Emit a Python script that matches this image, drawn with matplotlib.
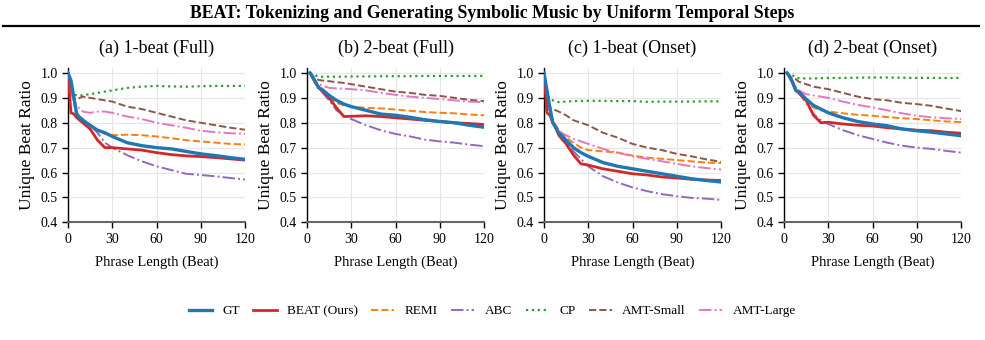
import matplotlib
matplotlib.use('Agg')
import matplotlib.pyplot as plt
from matplotlib.lines import Line2D

plt.rcParams['font.family'] = ['Liberation Serif', 'DejaVu Serif']

# phrase lengths (beats)
x_1beat = [0, 2, 4, 6, 8, 10, 15, 20, 25, 30, 40, 50, 60, 70, 80, 90, 100, 110, 120]
x_2beat = [2, 4, 6, 8, 10, 15, 20, 25, 30, 40, 50, 60, 70, 80, 90, 100, 110, 120]

panel_titles = ['(a) 1-beat (Full)', '(b) 2-beat (Full)', '(c) 1-beat (Onset)', '(d) 2-beat (Onset)']
series_names = ['GT', 'BEAT (Ours)', 'REMI', 'ABC', 'CP', 'AMT-Small', 'AMT-Large']
yticks = [0.4, 0.5, 0.6, 0.7, 0.8, 0.9, 1.0]
xticks = [0, 30, 60, 90, 120]

# (a) 1-beat Full
a_gt = [1.0, 0.97, 0.90, 0.83, 0.82, 0.81, 0.79, 0.77, 0.76, 0.745, 0.72, 0.708, 0.70, 0.695, 0.685, 0.675, 0.668, 0.66, 0.653]
a_beat = [1.0, 0.84, 0.835, 0.82, 0.81, 0.80, 0.775, 0.73, 0.70, 0.70, 0.695, 0.69, 0.68, 0.672, 0.667, 0.664, 0.66, 0.655, 0.65]
a_remi = [1.0, 0.95, 0.88, 0.84, 0.82, 0.81, 0.79, 0.77, 0.755, 0.75, 0.752, 0.75, 0.745, 0.738, 0.73, 0.725, 0.72, 0.715, 0.713]
a_abc = [1.0, 0.95, 0.89, 0.84, 0.825, 0.815, 0.79, 0.76, 0.72, 0.70, 0.67, 0.645, 0.625, 0.61, 0.595, 0.59, 0.585, 0.578, 0.572]
a_cp = [1.0, 0.93, 0.913, 0.91, 0.91, 0.91, 0.915, 0.92, 0.925, 0.93, 0.94, 0.945, 0.948, 0.946, 0.945, 0.947, 0.948, 0.948, 0.948]
a_amts = [1.0, 0.92, 0.90, 0.895, 0.90, 0.905, 0.90, 0.895, 0.89, 0.885, 0.865, 0.855, 0.84, 0.825, 0.81, 0.80, 0.79, 0.78, 0.772]
a_amtl = [1.0, 0.92, 0.89, 0.87, 0.855, 0.845, 0.84, 0.845, 0.845, 0.84, 0.825, 0.815, 0.80, 0.79, 0.78, 0.768, 0.762, 0.758, 0.755]

# (b) 2-beat Full
b_gt = [1.0, 0.985, 0.96, 0.94, 0.935, 0.91, 0.89, 0.875, 0.865, 0.85, 0.835, 0.83, 0.822, 0.812, 0.805, 0.80, 0.79, 0.782]
b_beat = [1.0, 0.98, 0.96, 0.94, 0.93, 0.90, 0.86, 0.825, 0.826, 0.828, 0.825, 0.82, 0.815, 0.81, 0.805, 0.80, 0.797, 0.793]
b_remi = [1.0, 0.98, 0.96, 0.945, 0.93, 0.90, 0.88, 0.87, 0.865, 0.86, 0.858, 0.853, 0.848, 0.843, 0.84, 0.838, 0.833, 0.83]
b_abc = [1.0, 0.975, 0.955, 0.94, 0.925, 0.89, 0.85, 0.83, 0.815, 0.79, 0.77, 0.755, 0.745, 0.732, 0.725, 0.72, 0.712, 0.706]
b_cp = [1.0, 0.995, 0.99, 0.986, 0.985, 0.985, 0.985, 0.985, 0.986, 0.986, 0.987, 0.987, 0.987, 0.988, 0.988, 0.988, 0.988, 0.988]
b_amts = [1.0, 0.98, 0.975, 0.972, 0.97, 0.967, 0.963, 0.96, 0.955, 0.945, 0.935, 0.925, 0.92, 0.912, 0.908, 0.90, 0.892, 0.887]
b_amtl = [1.0, 0.98, 0.965, 0.955, 0.95, 0.94, 0.938, 0.937, 0.935, 0.93, 0.92, 0.912, 0.905, 0.90, 0.895, 0.89, 0.885, 0.882]

# (c) 1-beat Onset
c_gt = [1.0, 0.93, 0.86, 0.80, 0.78, 0.76, 0.73, 0.70, 0.68, 0.665, 0.64, 0.625, 0.615, 0.605, 0.595, 0.585, 0.575, 0.568, 0.562]
c_beat = [1.0, 0.84, 0.83, 0.80, 0.78, 0.75, 0.715, 0.67, 0.635, 0.63, 0.615, 0.605, 0.595, 0.59, 0.582, 0.578, 0.573, 0.57, 0.568]
c_remi = [1.0, 0.92, 0.85, 0.81, 0.79, 0.77, 0.74, 0.72, 0.70, 0.69, 0.685, 0.68, 0.668, 0.66, 0.655, 0.65, 0.645, 0.64, 0.638]
c_abc = [1.0, 0.91, 0.84, 0.80, 0.78, 0.76, 0.72, 0.685, 0.655, 0.625, 0.585, 0.56, 0.54, 0.525, 0.513, 0.505, 0.498, 0.495, 0.49]
c_cp = [1.0, 0.91, 0.895, 0.89, 0.885, 0.883, 0.885, 0.887, 0.888, 0.888, 0.888, 0.887, 0.887, 0.884, 0.885, 0.885, 0.885, 0.886, 0.886]
c_amts = [1.0, 0.87, 0.86, 0.855, 0.85, 0.845, 0.83, 0.81, 0.80, 0.79, 0.76, 0.74, 0.715, 0.70, 0.69, 0.675, 0.665, 0.653, 0.643]
c_amtl = [1.0, 0.88, 0.84, 0.80, 0.78, 0.765, 0.75, 0.735, 0.725, 0.715, 0.695, 0.68, 0.665, 0.655, 0.645, 0.635, 0.625, 0.618, 0.612]

# (d) 2-beat Onset
d_gt = [1.0, 0.985, 0.96, 0.93, 0.925, 0.895, 0.87, 0.855, 0.84, 0.82, 0.805, 0.795, 0.788, 0.775, 0.768, 0.762, 0.755, 0.748]
d_beat = [1.0, 0.985, 0.96, 0.93, 0.92, 0.89, 0.83, 0.80, 0.802, 0.795, 0.79, 0.787, 0.78, 0.775, 0.77, 0.768, 0.762, 0.758]
d_remi = [1.0, 0.98, 0.955, 0.935, 0.92, 0.89, 0.86, 0.85, 0.845, 0.838, 0.832, 0.828, 0.823, 0.818, 0.815, 0.81, 0.805, 0.803]
d_abc = [1.0, 0.98, 0.955, 0.935, 0.92, 0.88, 0.835, 0.81, 0.795, 0.77, 0.75, 0.735, 0.72, 0.708, 0.70, 0.695, 0.687, 0.68]
d_cp = [1.0, 0.995, 0.99, 0.98, 0.979, 0.978, 0.978, 0.979, 0.98, 0.98, 0.981, 0.982, 0.982, 0.981, 0.98, 0.98, 0.98, 0.98]
d_amts = [1.0, 0.985, 0.978, 0.975, 0.965, 0.955, 0.945, 0.94, 0.935, 0.92, 0.905, 0.895, 0.89, 0.88, 0.875, 0.868, 0.857, 0.847]
d_amtl = [1.0, 0.975, 0.96, 0.945, 0.93, 0.915, 0.91, 0.905, 0.90, 0.885, 0.872, 0.862, 0.85, 0.838, 0.828, 0.822, 0.818, 0.815]

panels = [
    (x_1beat, [a_gt, a_beat, a_remi, a_abc, a_cp, a_amts, a_amtl]),
    (x_2beat, [b_gt, b_beat, b_remi, b_abc, b_cp, b_amts, b_amtl]),
    (x_1beat, [c_gt, c_beat, c_remi, c_abc, c_cp, c_amts, c_amtl]),
    (x_2beat, [d_gt, d_beat, d_remi, d_abc, d_cp, d_amts, d_amtl]),
]

# style per series: color, linestyle, linewidth, zorder
styles = [
    ('#1f77b4', '-', 2.4, 5),
    ('#d62728', '-', 2.0, 4),
    ('#ff7f0e', '--', 1.4, 3),
    ('#9467bd', '-.', 1.4, 3),
    ('#2ca02c', ':', 1.6, 3),
    ('#8c564b', '--', 1.4, 3),
    ('#e377c2', '-.', 1.4, 3),
]

fig = plt.figure(figsize=(9.85, 3.4), dpi=100)

fig.text(0.5, 1 - 13 / 340, 'BEAT: Tokenizing and Generating Symbolic Music by Uniform Temporal Steps',
         ha='center', va='center', fontsize=12.8, fontweight='bold')
fig.add_artist(Line2D([3 / 985, 979 / 985], [1 - 26 / 340, 1 - 26 / 340], color='black', lw=1.6,
                      transform=fig.transFigure))

lefts = [68, 307, 544, 784]
ax_w = 177 / 985
ax_bottom = 1 - 222.3 / 340
ax_h = (222.3 - 68) / 340

handles = []
for i, (xs, ys_list) in enumerate(panels):
    ax = fig.add_axes([lefts[i] / 985, ax_bottom, ax_w, ax_h])
    order = [2, 3, 4, 5, 6, 1, 0]
    hmap = {}
    for k in order:
        c, ls, lw, z = styles[k]
        ln, = ax.plot(xs, ys_list[k], color=c, linestyle=ls, linewidth=lw, zorder=z, label=series_names[k])
        hmap[k] = ln
    if i == 0:
        handles = [hmap[k] for k in range(len(series_names))]
    ax.set_xlim(0, 120)
    ax.set_ylim(0.4, 1.02)
    ax.set_xticks(xticks)
    ax.set_yticks(yticks)
    ax.set_yticklabels(['%.1f' % v for v in yticks])
    ax.grid(True, color='#e6e6e6', linewidth=0.8)
    ax.set_axisbelow(True)
    ax.spines['top'].set_visible(False)
    ax.spines['right'].set_visible(False)
    ax.spines['left'].set_color('black')
    ax.spines['left'].set_linewidth(1.0)
    ax.spines['bottom'].set_color('#666666')
    ax.spines['bottom'].set_linewidth(1.5)
    ax.tick_params(direction='out', length=4.5, width=1, colors='black', labelsize=10, pad=3)
    ax.set_title(panel_titles[i], fontsize=13, pad=11)
    ax.set_xlabel('Phrase Length (Beat)', fontsize=10.5, labelpad=7)
    ax.set_ylabel('Unique Beat Ratio', fontsize=12.5, labelpad=4)

fig.legend(handles, series_names, loc='center', bbox_to_anchor=(0.5, 1 - 311 / 340), ncol=7,
           frameon=False, fontsize=9.5, handlelength=1.75, columnspacing=1.0, handletextpad=0.8)

fig.savefig('out.png', dpi=100)
